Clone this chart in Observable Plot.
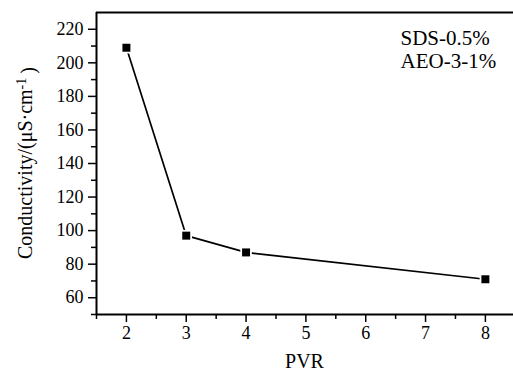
<!DOCTYPE html>
<html>
<head>
<meta charset="utf-8">
<script src="https://cdn.jsdelivr.net/npm/d3@7"></script>
<script src="https://cdn.jsdelivr.net/npm/@observablehq/plot@0.6"></script>
<style>
  html, body { margin: 0; padding: 0; background: white; }
  svg, svg text, svg tspan, svg g { font-family: "Liberation Serif", "Times New Roman", serif !important; }
</style>
</head>
<body>
<div id="chart"></div>
<script>
const pvr = [2, 3, 4, 8];
const conductivity = [209, 97, 87, 71];
const yTicks = [60, 80, 100, 120, 140, 160, 180, 200, 220];
const yMinor = [50, 70, 90, 110, 130, 150, 170, 190, 210];
const xTicks = [2, 3, 4, 5, 6, 7, 8];
const xMinor = [1.5, 2.5, 3.5, 4.5, 5.5, 6.5, 7.5];
const annotation = ["SDS-0.5%\nAEO-3-1%"];
const xLabel = "PVR";

const data = pvr.map((p, i) => ({pvr: p, conductivity: conductivity[i]}));

const svg = Plot.plot({
  width: 513,
  height: 372,
  marginLeft: 96,
  marginRight: 0,
  marginTop: 12,
  marginBottom: 58,
  style: {fontFamily: "'Liberation Serif', 'Times New Roman', serif", fontSize: "18px", color: "black", background: "white"},
  x: {domain: [1.5, 8.47]},
  y: {domain: [50, 230]},
  marks: [
    Plot.axisY({ticks: yTicks, tickSize: 8, tickPadding: 5, label: null, fontSize: 18, strokeWidth: 1.5}),
    Plot.axisY({ticks: yMinor, tickSize: 5, text: null, label: null, strokeWidth: 1.5}),
    Plot.axisX({ticks: xTicks, tickSize: 8, tickPadding: 4, label: null, fontSize: 18, strokeWidth: 1.5, tickFormat: d => String(d)}),
    Plot.axisX({ticks: xMinor, tickSize: 5, text: null, label: null, strokeWidth: 1.5}),
    Plot.ruleX([1.5], {strokeWidth: 2}),
    Plot.ruleY([50, 230], {strokeWidth: 2}),
    Plot.line(data, {x: "pvr", y: "conductivity", stroke: "black", strokeWidth: 1.7}),
    Plot.dot(data, {x: "pvr", y: "conductivity", symbol: "square", r: 6.5, fill: "white", stroke: null}),
    Plot.dot(data, {x: "pvr", y: "conductivity", symbol: "square", r: 4.5, fill: "black", stroke: null}),
    Plot.text(annotation, {frameAnchor: "top-left", dx: 304, dy: 16, textAnchor: "start", fontSize: 21, lineHeight: 1.1, text: d => d, fill: "black"})
  ]
});

const s = d3.select(svg);
s.append("text")
  .attr("x", 304.5).attr("y", 368)
  .attr("text-anchor", "middle")
  .attr("font-size", 20)
  .attr("fill", "black")
  .text(xLabel);

const yl = s.append("text")
  .attr("transform", "translate(32,163) rotate(-90)")
  .attr("text-anchor", "middle")
  .attr("font-size", 20)
  .attr("fill", "black");
yl.append("tspan").text("Conductivity/(μS·cm");
yl.append("tspan").attr("dy", "-0.45em").attr("font-size", 14).text("-1");
yl.append("tspan").attr("dy", "0.45em").text("\u2009)");

document.getElementById("chart").appendChild(svg);
</script>
</body>
</html>
